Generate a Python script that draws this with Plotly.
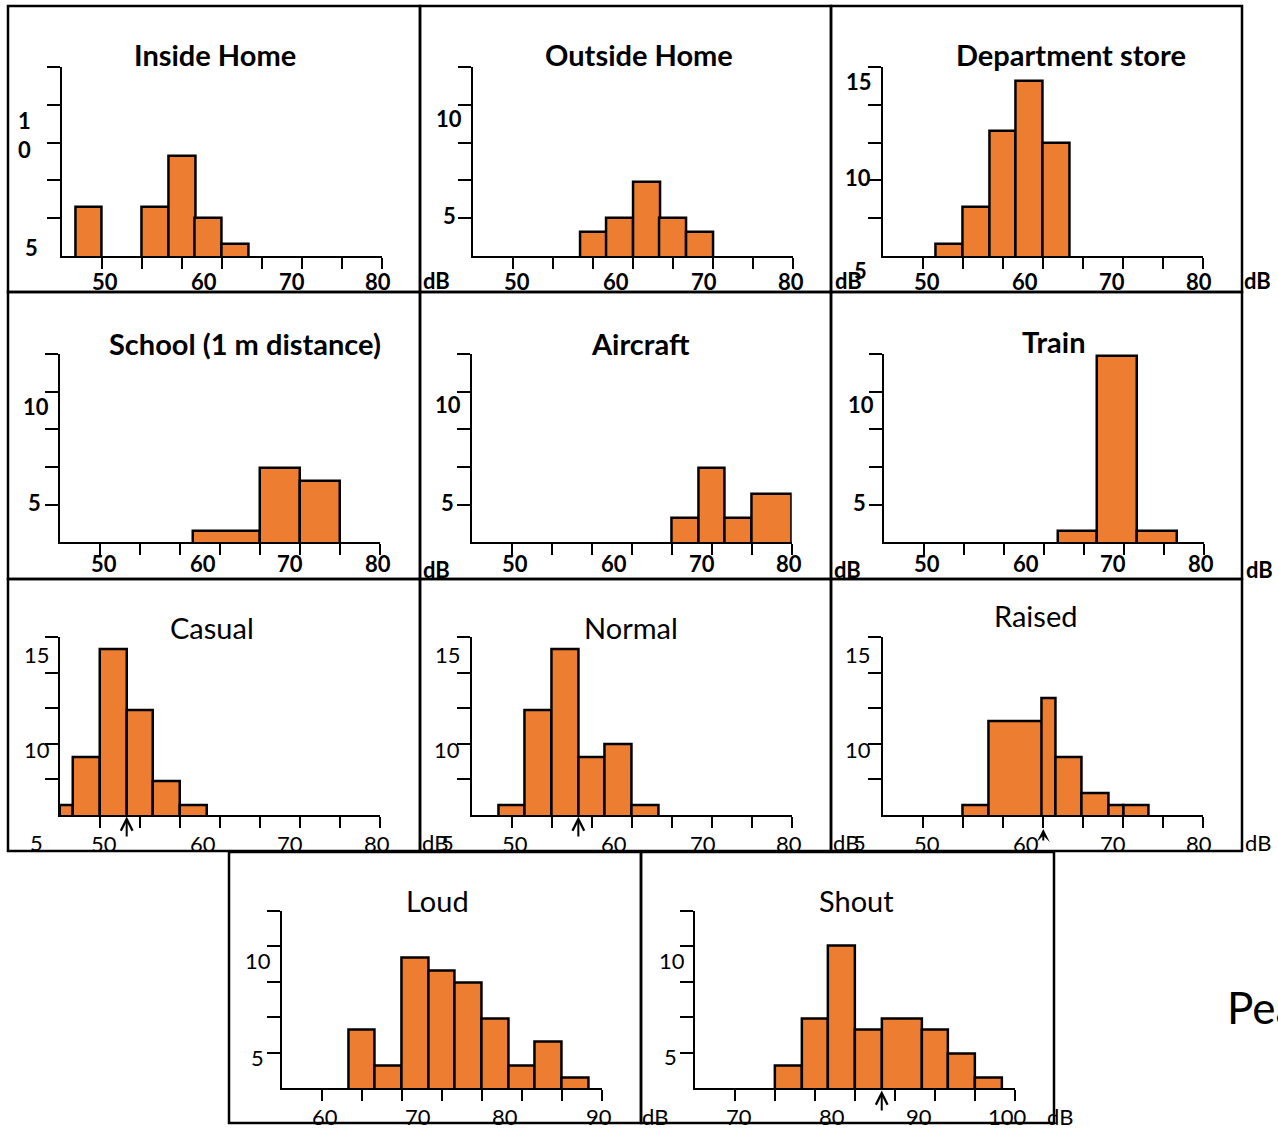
import plotly.graph_objects as go

W, H = 1278, 1131

# ---------------- data ----------------
# bin centres (dB), bin widths (dB), bar heights (axis units)
inside_home_db = [48.6, 55.7, 58.6, 61.4, 64.3]
inside_home_w = [2.86, 2.86, 2.86, 2.86, 2.86]
inside_home_val = [5.5, 5.5, 7.75, 5.0, 3.85]

outside_home_db = [58.6, 61.4, 64.3, 67.1, 70.0]
outside_home_w = [2.86, 2.86, 2.86, 2.86, 2.86]
outside_home_val = [4.4, 5.0, 6.6, 5.0, 4.4]

dept_store_db = [52.86, 55.71, 58.57, 61.43, 64.29]
dept_store_w = [2.86, 2.86, 2.86, 2.86, 2.86]
dept_store_val = [7.18, 8.84, 12.18, 14.4, 11.64]

school_db = [63.57, 69.29, 73.57]
school_w = [7.14, 4.29, 4.29]
school_val = [3.84, 6.6, 6.05]

aircraft_db = [68.57, 71.43, 74.29, 77.86]
aircraft_w = [2.86, 2.86, 2.86, 4.29]
aircraft_val = [4.39, 6.6, 4.39, 5.49]

train_db = [66.45, 70.65, 74.95]
train_w = [4.1, 4.3, 4.3]
train_val = [3.83, 11.56, 3.83]

casual_db = [46.4, 48.54, 51.43, 54.29, 57.14, 60.0]
casual_w = [1.36, 2.93, 2.86, 2.86, 2.86, 2.86]
casual_val = [7.14, 9.36, 14.42, 11.6, 8.23, 7.14]

normal_db = [50.0, 52.86, 55.71, 58.57, 61.43, 64.29]
normal_w = [2.86, 2.86, 2.86, 2.86, 2.86, 2.86]
normal_val = [7.14, 11.6, 14.42, 9.36, 9.96, 7.14]

raised_db = [55.68, 59.96, 63.5, 65.64, 68.5, 70.73, 72.87]
raised_w = [2.86, 5.7, 1.4, 2.86, 2.86, 1.6, 2.68]
raised_val = [7.14, 11.05, 12.15, 9.36, 7.69, 7.14, 7.14]

loud_db = [64.29, 67.14, 70.0, 72.86, 75.71, 78.57, 81.43, 84.29, 87.14]
loud_w = [2.86, 2.86, 2.86, 2.86, 2.86, 2.86, 2.86, 2.86, 2.86]
loud_val = [6.07, 4.38, 9.44, 8.85, 8.31, 6.62, 4.38, 5.52, 3.83]

shout_db = [75.71, 78.57, 81.43, 84.29, 87.86, 91.43, 94.29, 97.14]
shout_w = [2.86, 2.86, 2.86, 2.86, 4.29, 2.86, 2.86, 2.86]
shout_val = [4.38, 6.62, 10.01, 6.07, 6.62, 6.07, 4.94, 3.83]

# average-level markers (dB)
casual_mark = 52.86
normal_mark = 57.14
raised_mark = 62.92
shout_mark = 85.71

titles = ["Inside Home", "Outside Home", "Department store",
          "School (1 m distance)", "Aircraft", "Train",
          "Casual", "Normal", "Raised", "Loud", "Shout"]
ticks_50_80 = ["50", "60", "70", "80"]
ticks_60_90 = ["60", "70", "80", "90"]
ticks_70_100 = ["70", "80", "90", "100"]

series = [
    (inside_home_db, inside_home_w, inside_home_val),
    (outside_home_db, outside_home_w, outside_home_val),
    (dept_store_db, dept_store_w, dept_store_val),
    (school_db, school_w, school_val),
    (aircraft_db, aircraft_w, aircraft_val),
    (train_db, train_w, train_val),
    (casual_db, casual_w, casual_val),
    (normal_db, normal_w, normal_val),
    (raised_db, raised_w, raised_val),
    (loud_db, loud_w, loud_val),
    (shout_db, shout_w, shout_val),
]

# ---------------- layout (pixels) ----------------
# first-tick x px, top px, baseline px, first tick dB, y scale kind, bold
geom = [
    (101.7, 67, 256, 50, "A", True),
    (513.3, 67, 256, 50, "A", True),
    (922.7, 67, 256, 50, "B", True),
    (100.0, 354, 542.3, 50, "A", True),
    (511.7, 354, 542.3, 50, "A", True),
    (924.0, 354, 542.3, 50, "A", True),
    (100.0, 637.3, 815, 50, "B", False),
    (511.7, 637.3, 815, 50, "B", False),
    (922.7, 637.3, 815, 50, "B", False),
    (321.7, 910.7, 1088.3, 60, "A", False),
    (735.1, 910.7, 1088.3, 70, "A", False),
]
title_pos = [(214.5, 55), (638.8, 55), (1070.8, 55),
             (245, 343), (640, 343), (1054.2, 342),
             (211.7, 627), (630.8, 627), (1035, 615),
             (437.5, 900), (856.3, 900)]
xlab_pos = [
    ([104.5, 203.7, 291.7, 377.5], 282, ticks_50_80),
    ([516.7, 615.8, 704.2, 790.8], 282, ticks_50_80),
    ([926.7, 1025, 1112.2, 1199], 282, ticks_50_80),
    ([104, 203, 290, 377.5], 563.5, ticks_50_80),
    ([515.3, 613.8, 701.7, 788.5], 564, ticks_50_80),
    ([927, 1025.8, 1113.3, 1200.8], 564, ticks_50_80),
    ([103.7, 202.5, 289.5, 376.7], 843, ticks_50_80),
    ([515.3, 614.2, 702.5, 789.2], 843, ticks_50_80),
    ([926.7, 1025.8, 1112.5, 1199.2], 843, ticks_50_80),
    ([325, 417.5, 505, 598.7], 1116, ticks_60_90),
    ([738.7, 831.7, 918.9, 1007.4], 1116, ticks_70_100),
]
# free text labels: (text, x px, y px, bold)
free_labels = [
    ("1", 24, 120, True), ("0", 24, 150, True), ("5", 31, 248, True),
    ("10", 449, 118, True), ("5", 449, 215, True), ("dB", 436, 281, True),
    ("15", 859, 82, True), ("10", 858, 178, True), ("5", 860, 270, True),
    ("dB", 848, 281, True), ("dB", 1257.5, 281, True),
    ("10", 36, 406, True), ("5", 34, 503, True),
    ("10", 447.5, 405, True), ("5", 447.5, 503, True), ("dB", 436, 569, True),
    ("10", 861, 405, True), ("5", 859, 503, True), ("dB", 847.5, 569, True),
    ("dB", 1259, 569, True),
    ("15", 36.7, 654, False), ("10", 36.7, 749, False), ("5", 36.7, 842.5, False),
    ("15", 448, 654, False), ("10", 447, 749, False), ("dB", 435, 842, False),
    ("5", 447, 842, False),
    ("15", 858, 654, False), ("10", 858, 749, False), ("dB", 846, 842, False),
    ("5", 859, 842, False), ("dB", 1257.5, 842, False),
    ("10", 258, 960, False), ("5", 257.5, 1057.5, False),
    ("10", 672, 960, False), ("5", 670.4, 1056.5, False),
    ("dB", 655, 1116, False), ("dB", 1060, 1116, False),
]
borders = [
    (8, 6, 420, 292), (420, 6, 831, 292), (831, 6, 1242, 292),
    (8, 292, 420, 579), (420, 292, 831, 579), (831, 292, 1242, 579),
    (8, 579, 420, 851), (420, 579, 831, 851), (831, 579, 1242, 851),
    (229, 852, 641, 1123), (641, 852, 1054, 1123),
]

FONT = "Lato"
ORANGE = "#ED7D31"
STEP = 30 / 7  # tick spacing in dB
SCALES = {
    "A": ([10 / 3, 35 / 3], [5, 20 / 3, 25 / 3, 10, 35 / 3]),
    "B": ([20 / 3, 15], [25 / 3, 10, 35 / 3, 40 / 3, 15]),
}


def px(xp, yp):
    return xp / W, 1 - yp / H


fig = go.Figure()
annotations = []
layout_axes = {}

for i, ((xs, ws, vs), g) in enumerate(zip(series, geom)):
    n = i + 1
    first_px, top, base, lo, kind, bold = g
    xa = "x" if n == 1 else f"x{n}"
    ya = "y" if n == 1 else f"y{n}"
    fig.add_trace(go.Bar(
        x=xs, y=vs, width=ws, xaxis=xa, yaxis=ya,
        marker=dict(color=ORANGE, line=dict(color="black", width=2.5)),
        hoverinfo="skip", showlegend=False,
    ))
    yr, yt = SCALES[kind]
    xk = "xaxis" if n == 1 else f"xaxis{n}"
    yk = "yaxis" if n == 1 else f"yaxis{n}"
    layout_axes[xk] = dict(
        domain=[(first_px - 40) / W, (first_px + 280) / W],
        range=[lo - STEP, lo + 30], anchor=ya,
        tickmode="array", tickvals=[lo + k * STEP for k in range(8)],
        showticklabels=False, ticks="outside", ticklen=11, tickwidth=2,
        tickcolor="black", showline=True, linewidth=2, linecolor="black",
        showgrid=False, zeroline=False, fixedrange=True,
    )
    layout_axes[yk] = dict(
        domain=[1 - base / H, 1 - top / H], range=yr, anchor=xa,
        tickmode="array", tickvals=yt,
        showticklabels=False, ticks="outside", ticklen=13, tickwidth=2,
        tickcolor="black", showline=True, linewidth=2, linecolor="black",
        showgrid=False, zeroline=False, fixedrange=True,
    )
    # title
    tx, ty = px(*title_pos[i])
    annotations.append(dict(
        text=f"<b>{titles[i]}</b>" if bold else titles[i],
        x=tx, y=ty, xref="paper", yref="paper", showarrow=False,
        xanchor="center", yanchor="middle",
        font=dict(family=FONT, size=29, color="black")))
    # x tick labels
    xps, yl, labs = xlab_pos[i]
    for xp, lab in zip(xps, labs):
        ax_, ay_ = px(xp, yl)
        annotations.append(dict(
            text=f"<b>{lab}</b>" if bold else lab,
            x=ax_, y=ay_, xref="paper", yref="paper", showarrow=False,
            xanchor="center", yanchor="middle",
            font=dict(family=FONT, size=22, color="black")))

for text, xp, yp, bold in free_labels:
    ax_, ay_ = px(xp, yp)
    annotations.append(dict(
        text=f"<b>{text}</b>" if bold else text,
        x=ax_, y=ay_, xref="paper", yref="paper", showarrow=False,
        xanchor="center", yanchor="middle",
        font=dict(family=FONT, size=22, color="black")))

# level markers (arrows)
for xv, xa, tip, tail, head, size in [
    (casual_mark, "x7", 816.5, 838, 5, 1.15),
    (normal_mark, "x8", 816.5, 838, 5, 1.15),
    (raised_mark, "x9", 829, 842, 3, 1.1),
    (shout_mark, "x11", 1090.5, 1112, 5, 1.15),
]:
    annotations.append(dict(
        x=xv, xref=xa, y=1 - tip / H, yref="paper", text="",
        showarrow=True, arrowhead=head, arrowsize=size, arrowwidth=2,
        arrowcolor="black", ax=0, ay=tail - tip, standoff=0))

# side text, cut by the right edge as in the reference
annotations.append(dict(
    text="Pea", x=1225 / W, y=1 - 1007 / H, xref="paper", yref="paper",
    showarrow=False, xanchor="left", yanchor="middle",
    font=dict(family=FONT, size=44, color="black")))

shapes = []
for x0, y0, x1, y1 in borders:
    shapes.append(dict(type="rect", xref="paper", yref="paper",
                       x0=x0 / W, x1=x1 / W, y0=1 - y0 / H, y1=1 - y1 / H,
                       line=dict(color="black", width=2.5), layer="above"))

fig.update_layout(
    width=W, height=H, margin=dict(l=0, r=0, t=0, b=0),
    paper_bgcolor="white", plot_bgcolor="white",
    showlegend=False, bargap=0,
    annotations=annotations, shapes=shapes,
    font=dict(family=FONT, color="black"),
    **layout_axes,
)

fig.write_html("out.html", config={"displayModeBar": False})
